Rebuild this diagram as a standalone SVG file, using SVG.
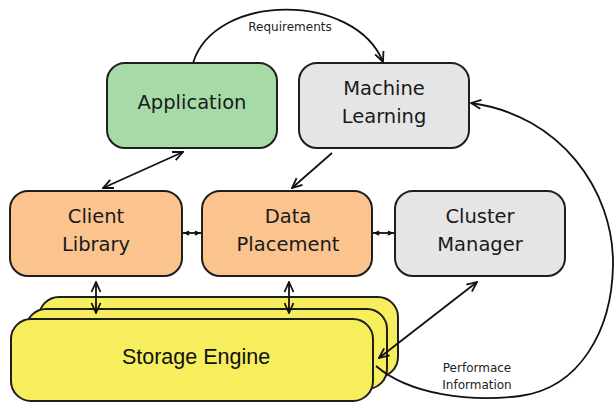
<svg xmlns="http://www.w3.org/2000/svg" width="615" height="402" viewBox="0 0 615 402">
<style>
.box{stroke:#1e1e1e;stroke-width:2}
.green{fill:#a6dba8}
.grey{fill:#e5e5e5}
.orange{fill:#fbc38e}
.yellow{fill:#f7ee5e}
.lbl{font-family:"DejaVu Sans",sans-serif;font-size:19.5px;fill:#1a1a1a;text-anchor:middle}
.se{font-family:"Liberation Sans",Arial,sans-serif;font-size:21.5px;fill:#111;text-anchor:middle}
.small{font-family:"DejaVu Sans",sans-serif;font-size:12px;fill:#222;text-anchor:middle}
.conn{fill:none;stroke:#111;stroke-width:1.8}
</style>
<defs>
<marker id="ah" viewBox="0 0 12 12" refX="11" refY="6" markerWidth="12" markerHeight="12" markerUnits="userSpaceOnUse" orient="auto-start-reverse">
<path d="M1,1.5 L11,6 L1,10.5" fill="none" stroke="#111" stroke-width="1.8"/>
</marker>
<marker id="ahs" viewBox="0 0 8 8" refX="7.5" refY="4" markerWidth="7" markerHeight="7" markerUnits="userSpaceOnUse" orient="auto-start-reverse">
<path d="M0.5,1 L7.5,4 L0.5,7 Z" fill="#111"/>
</marker>
</defs>
<g id="application"><rect class="box green" x="107" y="63" width="170" height="85" rx="18"/><text class="lbl" x="192" y="109">Application</text></g>
<g id="machine-learning"><rect class="box grey" x="299" y="63" width="170" height="85" rx="18"/><text class="lbl" x="384" y="95">Machine</text><text class="lbl" x="384" y="123">Learning</text></g>
<g id="client-library"><rect class="box orange" x="10" y="191" width="172" height="85" rx="18"/><text class="lbl" x="96" y="223">Client</text><text class="lbl" x="96" y="251">Library</text></g>
<g id="data-placement"><rect class="box orange" x="202" y="191" width="170" height="85" rx="18"/><text class="lbl" x="288" y="223">Data</text><text class="lbl" x="288" y="251">Placement</text></g>
<g id="cluster-manager"><rect class="box grey" x="395" y="191" width="170" height="85" rx="18"/><text class="lbl" x="480" y="223">Cluster</text><text class="lbl" x="480" y="251">Manager</text></g>
<g id="storage-engine">
<rect class="box yellow" x="39" y="297" width="359" height="80" rx="20"/>
<rect class="box yellow" x="26" y="309" width="361" height="80" rx="20"/>
<rect class="box yellow" x="11" y="319" width="362" height="82" rx="20"/>
<text class="se" x="196" y="364">Storage Engine</text>
</g>
<g id="connectors">
<path class="conn" d="M193,63 C215,-8 355,-8 383,62" marker-end="url(#ah)"/>
<text class="small" x="290" y="31">Requirements</text>
<line class="conn" x1="183" y1="152" x2="103" y2="188" marker-start="url(#ah)" marker-end="url(#ah)"/>
<line class="conn" x1="332" y1="153" x2="292" y2="188" marker-end="url(#ah)"/>
<line class="conn" x1="183" y1="233" x2="201" y2="233" marker-start="url(#ahs)" marker-end="url(#ahs)"/>
<line class="conn" x1="373" y1="233" x2="394" y2="233" marker-start="url(#ahs)" marker-end="url(#ahs)"/>
<line class="conn" x1="96" y1="282" x2="96" y2="313" marker-start="url(#ah)" marker-end="url(#ah)"/>
<line class="conn" x1="289" y1="282" x2="289" y2="313" marker-start="url(#ah)" marker-end="url(#ah)"/>
<line class="conn" x1="477" y1="282" x2="379" y2="358" marker-start="url(#ah)" marker-end="url(#ah)"/>
<path class="conn" d="M376,366 C410,395 470,402 520,396 C580,388 612,330 613,265 C614,190 560,115 471,103" marker-end="url(#ah)"/>
<text class="small" x="477" y="372">Performace</text>
<text class="small" x="477" y="389">Information</text>
</g>
</svg>
